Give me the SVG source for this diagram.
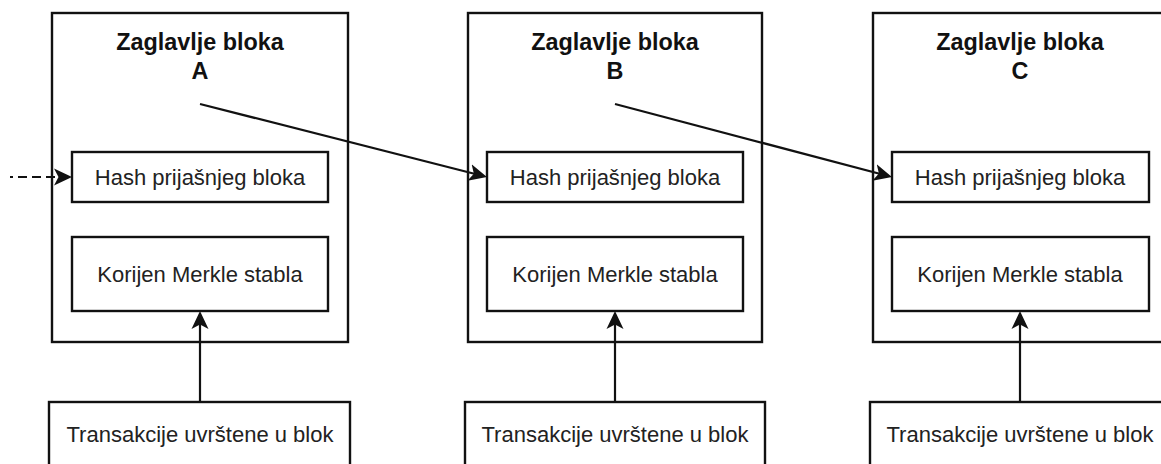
<svg xmlns="http://www.w3.org/2000/svg" width="1161" height="464" viewBox="0 0 1161 464">
  <style>
    .box { fill: #ffffff; stroke: #111111; stroke-width: 2.4; }
    .title { font-family: "Liberation Sans", Arial, sans-serif; font-size: 23.4px; font-weight: bold; fill: #111111; text-anchor: middle; }
    .lbl { font-family: "Liberation Sans", Arial, sans-serif; font-size: 22px; fill: #222222; text-anchor: middle; }
    .edge { fill: none; stroke: #111111; stroke-width: 2.2; }
    .dashed { stroke-dasharray: 9 5; stroke-dashoffset: 6; }
  </style>
  <defs>
    <marker id="arrow" viewBox="0 0 18 18" refX="14" refY="9" markerWidth="18" markerHeight="18" markerUnits="userSpaceOnUse" orient="auto">
      <path d="M0,0.5 L18,9 L0,17.5 L4.5,9 Z" fill="#111111" stroke="none"/>
    </marker>
  </defs>

  <g id="blockA">
    <rect class="box" x="52" y="13" width="296" height="329"/>
    <text class="title" x="200" y="50">Zaglavlje bloka</text>
    <text class="title" x="200" y="79">A</text>
    <g id="hashA">
      <rect class="box" x="72" y="152" width="256" height="50"/>
      <text class="lbl" x="200" y="185">Hash prijašnjeg bloka</text>
    </g>
    <g id="merkleA">
      <rect class="box" x="72" y="237" width="256" height="74"/>
      <text class="lbl" x="200" y="282">Korijen Merkle stabla</text>
    </g>
  </g>
  <g id="txA">
    <rect class="box" x="49" y="402" width="301" height="80"/>
    <text class="lbl" x="200" y="442">Transakcije uvrštene u blok</text>
  </g>

  <g id="blockB">
    <rect class="box" x="468" y="13" width="294" height="329"/>
    <text class="title" x="615" y="50">Zaglavlje bloka</text>
    <text class="title" x="615" y="79">B</text>
    <g id="hashB">
      <rect class="box" x="487" y="152" width="256" height="50"/>
      <text class="lbl" x="615" y="185">Hash prijašnjeg bloka</text>
    </g>
    <g id="merkleB">
      <rect class="box" x="487" y="237" width="256" height="74"/>
      <text class="lbl" x="615" y="282">Korijen Merkle stabla</text>
    </g>
  </g>
  <g id="txB">
    <rect class="box" x="465" y="402" width="300" height="80"/>
    <text class="lbl" x="615" y="442">Transakcije uvrštene u blok</text>
  </g>

  <g id="blockC">
    <rect class="box" x="873" y="13" width="295" height="329"/>
    <text class="title" x="1020" y="50">Zaglavlje bloka</text>
    <text class="title" x="1020" y="79">C</text>
    <g id="hashC">
      <rect class="box" x="892" y="152" width="257" height="50"/>
      <text class="lbl" x="1020" y="185">Hash prijašnjeg bloka</text>
    </g>
    <g id="merkleC">
      <rect class="box" x="892" y="237" width="257" height="74"/>
      <text class="lbl" x="1020" y="282">Korijen Merkle stabla</text>
    </g>
  </g>
  <g id="txC">
    <rect class="box" x="870" y="402" width="301" height="80"/>
    <text class="lbl" x="1020" y="442">Transakcije uvrštene u blok</text>
  </g>

  <g id="connectors">
    <line class="edge dashed" x1="10" y1="177" x2="68" y2="177" marker-end="url(#arrow)"/>
    <line class="edge" x1="200" y1="104" x2="483.1" y2="176" marker-end="url(#arrow)"/>
    <line class="edge" x1="615" y1="104" x2="888.1" y2="176" marker-end="url(#arrow)"/>
    <line class="edge" x1="200" y1="402" x2="200" y2="315" marker-end="url(#arrow)"/>
    <line class="edge" x1="615" y1="402" x2="615" y2="315" marker-end="url(#arrow)"/>
    <line class="edge" x1="1020" y1="402" x2="1020" y2="315" marker-end="url(#arrow)"/>
  </g>
</svg>
